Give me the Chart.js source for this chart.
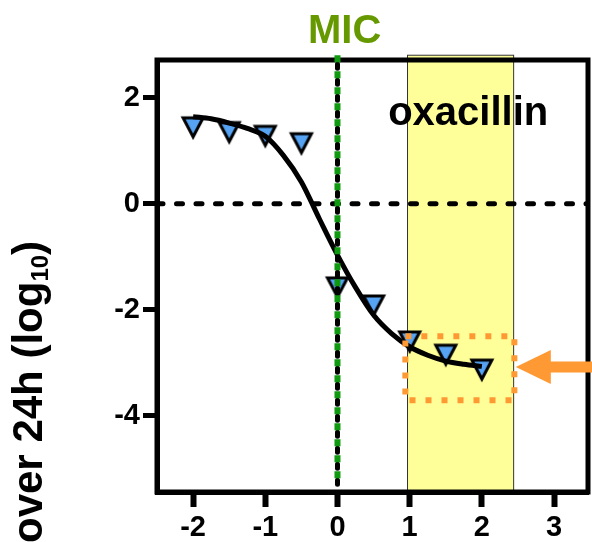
<!DOCTYPE html>
<html>
<head>
<meta charset="utf-8">
<script src="https://cdn.jsdelivr.net/npm/chart.js@4.4.0/dist/chart.umd.min.js"></script>
<style>
  body { margin: 0; background: #fff; }
  .wrap { width: 592px; height: 542px; }
</style>
</head>
<body>
<div class="wrap"><canvas id="killChart"></canvas></div>
<script>
// measured points (log2 of conc/MIC vs change over 24h)
let doseX = [-2, -1.5, -1, -0.5, 0, 0.5, 1, 1.5, 2];
let cfuChange = [1.43, 1.34, 1.27, 1.13, -1.59, -1.93, -2.61, -2.86, -3.14];

// fitted curve
let fitX = [-2, -1.75, -1.5, -1.25, -1, -0.75, -0.5, -0.25, 0, 0.25, 0.5, 0.75, 1, 1.25, 1.5, 1.75, 2];
let fitY = [1.64, 1.60, 1.52, 1.42, 1.27, 0.91, 0.41, -0.29, -0.97, -1.58, -2.1, -2.45, -2.7, -2.86, -2.97, -3.03, -3.07];

let xTicks = [-2, -1, 0, 1, 2, 3];
let yTicks = [-4, -2, 0, 2];

let micX = [0, 0];
let micY = [2.8, -5.44];
let zeroX = [-2.5, 3.47];
let zeroY = [0, 0];
let bandX = [0.97, 2.44];
let bandTop = 2.8;
let boxX = [0.94, 2.45];
let boxY = [-2.5, -3.71];
let arrowTip = [2.47, -3.08];

const font = '"Liberation Sans", Arial, sans-serif';
const orange = '#ff9933';

function pts(xs, ys) {
  return xs.map((x, i) => ({x: x, y: ys[i]}));
}

// inverted triangle marker
let tri = document.createElement('canvas');
tri.width = 28;
tri.height = 28;
let t = tri.getContext('2d');
t.beginPath();
t.moveTo(4, 4);
t.lineTo(24, 4);
t.lineTo(14, 23);
t.closePath();
t.fillStyle = '#55a3f2';
t.fill();
t.lineWidth = 3;
t.strokeStyle = '#000';
t.stroke();

let boxPts = [
  {x: boxX[0], y: boxY[0]}, {x: boxX[1], y: boxY[0]},
  {x: boxX[1], y: boxY[1]}, {x: boxX[0], y: boxY[1]},
  {x: boxX[0], y: boxY[0]}
];

let extras = {
  id: 'extras',
  beforeDraw(chart) {
    let ctx = chart.ctx, xs = chart.scales.x, ys = chart.scales.y;
    let a = chart.chartArea;
    let x1 = xs.getPixelForValue(bandX[0]), x2 = xs.getPixelForValue(bandX[1]);
    let y1 = ys.getPixelForValue(bandTop);
    ctx.save();
    ctx.fillStyle = '#ffff99';
    ctx.fillRect(x1, y1, x2 - x1, a.bottom - y1);
    ctx.strokeStyle = '#333';
    ctx.lineWidth = 1;
    ctx.strokeRect(x1, y1, x2 - x1, a.bottom - y1);
    ctx.restore();
  },
  beforeDatasetsDraw(chart) {
    let ctx = chart.ctx, a = chart.chartArea;
    ctx.save();
    ctx.strokeStyle = '#000';
    ctx.lineWidth = 5;
    ctx.strokeRect(a.left, a.top, a.right - a.left, a.bottom - a.top);
    ctx.restore();
  },
  afterDraw(chart) {
    let ctx = chart.ctx, xs = chart.scales.x, ys = chart.scales.y;
    ctx.save();
    ctx.textAlign = 'center';
    ctx.textBaseline = 'alphabetic';
    ctx.font = 'bold 40px ' + font;
    ctx.fillStyle = '#669900';
    ctx.fillText('MIC', xs.getPixelForValue(0.1), ys.getPixelForValue(3.03));
    ctx.fillStyle = '#000';
    ctx.fillText('oxacillin', xs.getPixelForValue(1.81), ys.getPixelForValue(1.48));

    // arrow pointing at the box
    let tx = xs.getPixelForValue(arrowTip[0]), ty = ys.getPixelForValue(arrowTip[1]);
    ctx.fillStyle = orange;
    ctx.beginPath();
    ctx.moveTo(tx, ty);
    ctx.lineTo(tx + 35, ty - 17);
    ctx.lineTo(tx + 35, ty - 5.5);
    ctx.lineTo(chart.width, ty - 5.5);
    ctx.lineTo(chart.width, ty + 5.5);
    ctx.lineTo(tx + 35, ty + 5.5);
    ctx.lineTo(tx + 35, ty + 17);
    ctx.closePath();
    ctx.fill();

    // y title, cut off at the bottom like the original
    ctx.translate(42, 543);
    ctx.rotate(-Math.PI / 2);
    ctx.textAlign = 'left';
    ctx.fillStyle = '#000';
    ctx.font = 'bold 42px ' + font;
    let s1 = 'over 24h (log';
    ctx.fillText(s1, 0, 0);
    let w1 = ctx.measureText(s1).width;
    ctx.font = 'bold 24px ' + font;
    ctx.fillText('10', w1, 6);
    let w2 = ctx.measureText('10').width;
    ctx.font = 'bold 42px ' + font;
    ctx.fillText(')', w1 + w2, 0);
    ctx.restore();
  }
};

new Chart(document.getElementById('killChart'), {
  type: 'scatter',
  data: {
    datasets: [
      {
        data: pts(micX, [micY[0], -5.2]),
        showLine: true,
        borderColor: '#0f990f',
        borderWidth: 6,
        borderDash: [7, 9],
        borderCapStyle: 'butt',
        pointRadius: 0,
        clip: false
      },
      {
        data: pts(micX, micY),
        showLine: true,
        borderColor: '#000',
        borderWidth: 5,
        borderDash: [4, 12],
        borderDashOffset: 7,
        borderCapStyle: 'round',
        pointRadius: 0,
        clip: false
      },
      {
        data: boxPts,
        showLine: true,
        borderColor: orange,
        borderWidth: 6,
        borderDash: [6, 10],
        borderCapStyle: 'butt',
        pointRadius: 0
      },
      {
        data: pts(fitX, fitY),
        showLine: true,
        borderColor: '#000',
        borderWidth: 5,
        cubicInterpolationMode: 'monotone',
        pointRadius: 0
      },
      {
        data: pts(doseX, cfuChange),
        pointStyle: tri,
        pointRadius: 12
      },
      {
        data: pts(zeroX, zeroY),
        showLine: true,
        borderColor: '#000',
        borderWidth: 5,
        borderDash: [6, 13.5],
        borderCapStyle: 'round',
        pointRadius: 0
      }
    ]
  },
  options: {
    responsive: true,
    maintainAspectRatio: false,
    animation: false,
    layout: { autoPadding: false, padding: { top: 60, right: 4, left: 0, bottom: 0 } },
    plugins: { legend: { display: false }, tooltip: { enabled: false } },
    scales: {
      x: {
        type: 'linear',
        min: -2.5,
        max: 3.47,
        afterFit: s => { s.height = 50; s.paddingLeft = 0; s.paddingRight = 0; },
        afterBuildTicks: s => { s.ticks = xTicks.map(v => ({value: v})); },
        border: { display: true, color: '#000', width: 5 },
        grid: { display: true, drawOnChartArea: false, drawTicks: true, tickLength: 15, tickWidth: 6, tickColor: '#000' },
        ticks: { color: '#000', padding: 4, font: { family: font, size: 29, weight: 'bold' } }
      },
      y: {
        min: -5.44,
        max: 2.71,
        afterFit: s => { s.width = 157; s.paddingTop = 0; s.paddingBottom = 0; },
        afterBuildTicks: s => { s.ticks = yTicks.map(v => ({value: v})); },
        border: { display: true, color: '#000', width: 5 },
        grid: { display: true, drawOnChartArea: false, drawTicks: true, tickLength: 14, tickWidth: 5, tickColor: '#000' },
        ticks: { color: '#000', padding: 3, font: { family: font, size: 29, weight: 'bold' } }
      }
    }
  },
  plugins: [extras]
});
</script>
</body>
</html>
